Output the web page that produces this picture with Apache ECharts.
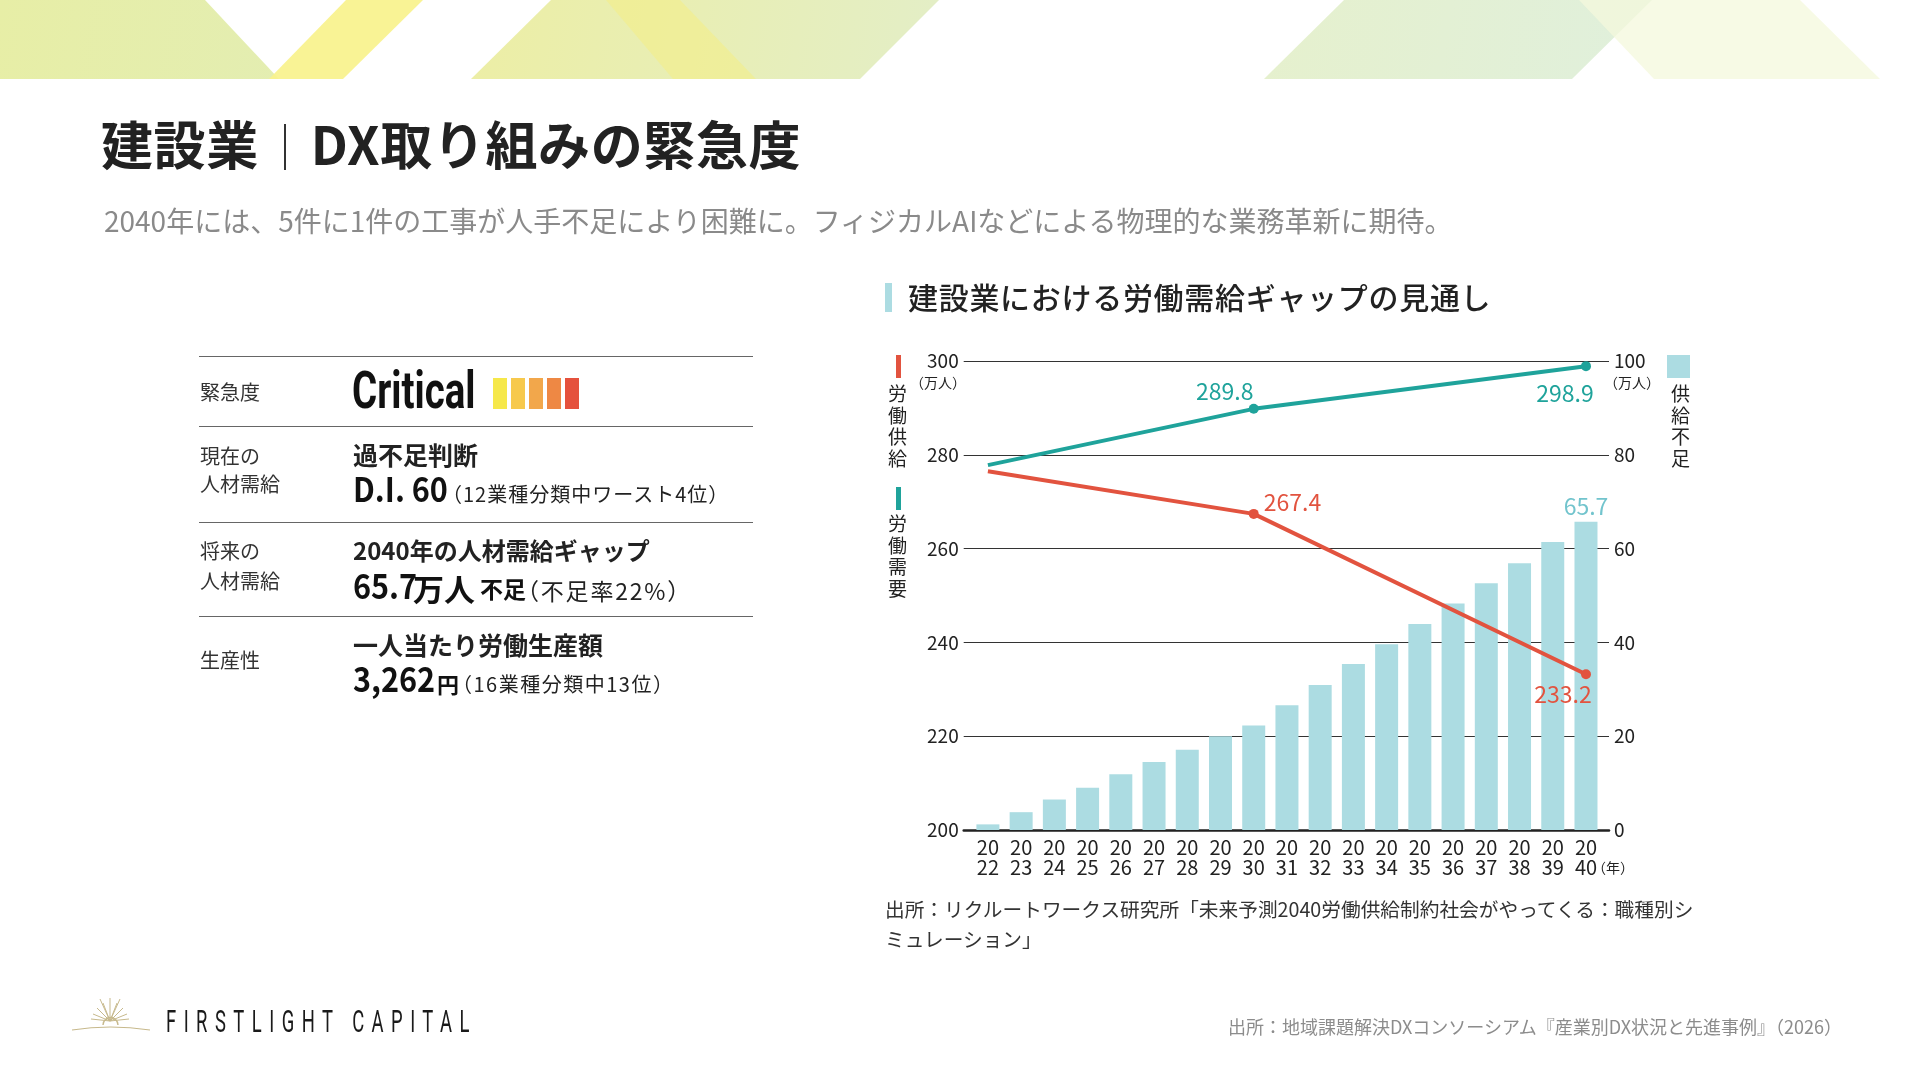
<!DOCTYPE html>
<html lang="ja">
<head>
<meta charset="utf-8">
<title>建設業｜DX取り組みの緊急度</title>
<script src="https://cdn.jsdelivr.net/npm/echarts@6/dist/echarts.min.js"></script>
<style>
  html, body { margin: 0; padding: 0; background: #fff; }
  body {
    width: 1920px; height: 1080px; position: relative; overflow: hidden;
    font-family: 'Noto Sans CJK JP', 'Noto Sans', sans-serif; color: #222;
  }
  .abs { position: absolute; line-height: 1; white-space: nowrap; }
  .deco { position: absolute; left: 0; top: 0; width: 1920px; height: 79px; }
  #chart { position: absolute; left: 0; top: 0; width: 1920px; height: 1080px; }
  .rule { position: absolute; left: 199px; width: 554px; height: 0; border-top: 1.5px solid #666; }
  .lbl { font-size: 20px; color: #333; }
  .head { font-size: 25px; font-weight: 700; color: #222; }
  .big { font-size: 34px; font-weight: 700; color: #111; transform: scaleX(.9); transform-origin: left; }
  .note { font-size: 20px; color: #222; }
  .vert { position: absolute; width: 19px; font-size: 19px; line-height: 21.7px; color: #222; text-align: center; }
  .lvl { position: absolute; top: 378px; width: 14px; height: 31px; }
</style>
</head>
<body>

<!-- header ribbons -->
<div class="deco" style="background: linear-gradient(100deg, #e7eea6 0%, #d3ebe5 85%); clip-path: polygon(0px 0px, 205px 0px, 279px 79px, 0px 79px);"></div>
<div class="deco" style="background: #f8f28c; opacity: .92; clip-path: polygon(346px 0px, 423px 0px, 343px 79px, 269px 79px);"></div>
<div class="deco" style="background: linear-gradient(100deg, #eeed8b 0%, #efee9c 18%, #dfeed5 60%, #d5ebe2 95%); clip-path: polygon(551px 0px, 939px 0px, 860px 79px, 471px 79px);"></div>
<div class="deco" style="background: rgba(243, 239, 136, .6); clip-path: polygon(606px 0px, 680px 0px, 756px 79px, 673px 79px);"></div>
<div class="deco" style="background: linear-gradient(100deg, #f3ef9a 0%, #eaf1c2 50%, #dcefe6 100%); clip-path: polygon(1344px 0px, 1652px 0px, 1572px 79px, 1264px 79px);"></div>
<div class="deco" style="background: rgba(244, 248, 220, .75); clip-path: polygon(1579px 0px, 1800px 0px, 1880px 79px, 1654px 79px);"></div>

<div id="chart"></div>

<!-- page title -->
<div class="abs" style="left:101px; top:117px; font-size:52px; font-weight:700; color:#222; letter-spacing:0.6px;">建設業<span style="display:inline-block; width:2px; height:46px; background:#333; margin:0 25px 0 25px; vertical-align:-5px;"></span>DX取り組みの緊急度</div>
<div class="abs" style="left:104px; top:206px; font-size:28px; color:#8a8a8a;">2040年には、5件に1件の工事が人手不足により困難に。フィジカルAIなどによる物理的な業務革新に期待。</div>

<!-- left summary table -->
<div class="rule" style="top:356px;"></div>
<div class="rule" style="top:426px;"></div>
<div class="rule" style="top:522px;"></div>
<div class="rule" style="top:616px;"></div>

<div class="abs lbl" style="left:200px; top:382px;">緊急度</div>
<div class="abs" style="left:352px; top:365px; font-family:Roboto,'Noto Sans',sans-serif; font-size:52px; font-weight:700; color:#111; transform:scaleX(.74); transform-origin:left;">Critical</div>
<div class="lvl" style="left:493px; background:#f6e84a;"></div>
<div class="lvl" style="left:511px; background:#f7c94d;"></div>
<div class="lvl" style="left:529px; background:#f2a74b;"></div>
<div class="lvl" style="left:547px; background:#ee8844;"></div>
<div class="lvl" style="left:565px; background:#e5513d;"></div>

<div class="abs lbl" style="left:200px; top:446px;">現在の</div>
<div class="abs lbl" style="left:200px; top:474px;">人材需給</div>
<div class="abs head" style="left:353px; top:442px;">過不足判断</div>
<div class="abs big" style="left:353px; top:471px;">D.I. 60</div>
<div class="abs note" style="left:442px; top:484px; letter-spacing:1px;">（12業種分類中ワースト4位）</div>

<div class="abs lbl" style="left:200px; top:541px;">将来の</div>
<div class="abs lbl" style="left:200px; top:571px;">人材需給</div>
<div class="abs" style="left:353px; top:538px; font-size:24px; font-weight:700; color:#222;">2040年の人材需給ギャップ</div>
<div class="abs big" style="left:353px; top:568px;">65.7</div>
<div class="abs" style="left:413px; top:572px; font-size:31px; font-weight:700; color:#111;">万人</div>
<div class="abs" style="left:480px; top:577px; font-size:23px; font-weight:700; color:#111;">不足</div>
<div class="abs" style="left:516px; top:579px; font-size:23px; color:#222; letter-spacing:1.8px;">（不足率22%）</div>

<div class="abs lbl" style="left:200px; top:650px;">生産性</div>
<div class="abs head" style="left:353px; top:632px;">一人当たり労働生産額</div>
<div class="abs big" style="left:353px; top:661px;">3,262</div>
<div class="abs" style="left:437px; top:672px; font-size:22px; font-weight:700; color:#111;">円</div>
<div class="abs note" style="left:452px; top:674px; letter-spacing:1.5px;">（16業種分類中13位）</div>

<!-- chart heading and axis titles -->
<div class="abs" style="left:885px; top:283px; width:7px; height:29px; background:#acdce2;"></div>
<div class="abs" style="left:908px; top:281px; font-size:30px; font-weight:500; letter-spacing:0.7px; color:#222;">建設業における労働需給ギャップの見通し</div>

<div class="abs" style="left:896px; top:355px; width:4.5px; height:23px; background:#e2533f;"></div>
<div class="vert" style="left:888px; top:382px;">労<br>働<br>供<br>給</div>
<div class="abs" style="left:896px; top:487px; width:4.5px; height:23px; background:#1fa39b;"></div>
<div class="vert" style="left:888px; top:512px;">労<br>働<br>需<br>要</div>

<div class="abs" style="left:1667px; top:355px; width:23px; height:23px; background:#acdce2;"></div>
<div class="vert" style="left:1671px; top:382px;">供<br>給<br>不<br>足</div>

<div class="abs" style="left:910px; top:375px; font-size:14px; color:#222;">（万人）</div>
<div class="abs" style="left:1604px; top:375px; font-size:14px; color:#222;">（万人）</div>
<div class="abs" style="left:1592px; top:860px; font-size:14px; color:#222;">（年）</div>

<div class="abs" style="left:885px; top:894px; font-size:19.7px; line-height:30px; color:#333;">出所：リクルートワークス研究所「未来予測2040労働供給制約社会がやってくる：職種別シ<br>ミュレーション」</div>

<!-- footer -->
<svg class="abs" style="left:60px; top:990px;" width="110" height="50" viewBox="0 0 110 50">
  <g stroke="#c7b98c" stroke-width="1" fill="none">
    <line x1="50" y1="31" x2="50" y2="8"/>
    <line x1="50" y1="31" x2="43" y2="13"/>
    <line x1="50" y1="31" x2="57" y2="13"/>
    <line x1="50" y1="31" x2="37" y2="18"/>
    <line x1="50" y1="31" x2="63" y2="18"/>
    <line x1="50" y1="31" x2="33" y2="24"/>
    <line x1="50" y1="31" x2="67" y2="24"/>
    <line x1="50" y1="31" x2="40" y2="9"/>
    <line x1="50" y1="31" x2="60" y2="9"/>
    <line x1="50" y1="31" x2="31" y2="29"/>
    <line x1="50" y1="31" x2="69" y2="29"/>
    <path d="M43,35 A7.5,7.5 0 0 1 58,35" stroke-width="1.4"/>
    <path d="M12,40 Q50,34 90,40" stroke-width="1.2"/>
  </g>
</svg>
<div class="abs" style="left:166px; top:1005px; font-family:Roboto,sans-serif; font-weight:400; font-size:32px; letter-spacing:13px; color:#1a1a1a; transform:scaleX(.575); transform-origin:left;">FIRSTLIGHT CAPITAL</div>
<div class="abs" style="right:78px; top:1017px; font-size:18px; color:#8c8c8c;">出所：地域課題解決DXコンソーシアム『産業別DX状況と先進事例』（2026）</div>

<script>
// 年次
const years = ['2022', '2023', '2024', '2025', '2026', '2027', '2028', '2029', '2030', '2031',
  '2032', '2033', '2034', '2035', '2036', '2037', '2038', '2039', '2040']
// 供給不足（万人）
const shortage = [1.2, 3.8, 6.5, 9.0, 11.9, 14.5, 17.1, 20.0, 22.3, 26.6,
  30.9, 35.4, 39.6, 43.9, 48.3, 52.6, 56.9, 61.4, 65.7]
// 労働需要・労働供給（万人）
const keyYears = ['2022', '2030', '2040']
const demand = [277.8, 289.8, 298.9]
const supply = [276.5, 267.4, 233.2]
// 軸の目盛り
const leftAxis = { min: 200, max: 300, interval: 20 }
const rightAxis = { min: 0, max: 100, interval: 20 }

const FONT = "'Noto Sans CJK JP', 'Noto Sans', sans-serif"
const TEAL = '#1fa39b'
const RED = '#e2533f'
const BAR = '#acdce2'

const demandLabels = [
  { show: false },
  { show: true, position: 'top', offset: [-29, 4] },
  { show: true, position: 'bottom', offset: [-21, 6] },
]
const supplyLabels = [
  { show: false },
  { show: true, position: 'right', offset: [0, -12] },
  { show: true, position: 'bottom', offset: [-23, -2] },
]

function pointData(values, labels) {
  return keyYears.map((y, i) => ({
    value: [y, values[i]],
    symbolSize: i === 0 ? 0 : 10,
    label: labels[i],
  }))
}

const chart = echarts.init(document.getElementById('chart'), null, { renderer: 'canvas' })

const option = {
  animation: false,
  textStyle: { fontFamily: FONT },
  grid: [
    { left: 963.7, width: 645.3, top: 361, height: 469 },
    { left: 971.3, width: 631.3, top: 361, height: 469 },
  ],
  xAxis: [
    {
      gridIndex: 0, type: 'value', min: 0, max: 1,
      axisLabel: { show: false }, axisTick: { show: false }, splitLine: { show: false },
      axisLine: { show: true, lineStyle: { color: '#222', width: 2.5 } },
    },
    {
      gridIndex: 1, type: 'category', data: years, boundaryGap: true,
      axisLine: { show: false }, axisTick: { show: false },
      axisLabel: {
        interval: 0, margin: 7, fontSize: 20, lineHeight: 20, color: '#222',
        formatter: v => v.slice(0, 2) + '\n' + v.slice(2),
      },
    },
  ],
  yAxis: [
    {
      gridIndex: 0, type: 'value', position: 'left',
      min: leftAxis.min, max: leftAxis.max, interval: leftAxis.interval,
      axisLine: { show: false }, axisTick: { show: false },
      axisLabel: { margin: 5, fontSize: 19, color: '#222' },
      splitLine: { show: true, lineStyle: { color: '#333', width: 1.2 } },
    },
    {
      gridIndex: 0, type: 'value', position: 'right',
      min: rightAxis.min, max: rightAxis.max, interval: rightAxis.interval,
      axisLine: { show: false }, axisTick: { show: false },
      axisLabel: { margin: 5, fontSize: 19, color: '#222' },
      splitLine: { show: false },
    },
    { gridIndex: 1, type: 'value', show: false, min: leftAxis.min, max: leftAxis.max },
    { gridIndex: 1, type: 'value', show: false, min: rightAxis.min, max: rightAxis.max },
  ],
  series: [
    {
      name: '供給不足',
      type: 'bar',
      xAxisIndex: 1,
      yAxisIndex: 3,
      barWidth: 23,
      itemStyle: { color: BAR },
      data: shortage.map((v, i) => ({
        value: v,
        label: i === shortage.length - 1
          ? { show: true, position: 'top', distance: 4, color: '#72c4cd', fontSize: 23, formatter: p => p.value.toFixed(1) }
          : { show: false },
      })),
    },
    {
      name: '労働需要',
      type: 'line',
      xAxisIndex: 1,
      yAxisIndex: 2,
      symbol: 'circle',
      lineStyle: { color: TEAL, width: 4 },
      itemStyle: { color: TEAL },
      label: { color: TEAL, fontSize: 23, formatter: p => p.value[1].toFixed(1) },
      data: pointData(demand, demandLabels),
    },
    {
      name: '労働供給',
      type: 'line',
      xAxisIndex: 1,
      yAxisIndex: 2,
      symbol: 'circle',
      lineStyle: { color: RED, width: 4 },
      itemStyle: { color: RED },
      label: { color: RED, fontSize: 23, formatter: p => p.value[1].toFixed(1) },
      data: pointData(supply, supplyLabels),
    },
  ],
}

chart.setOption(option)
window.addEventListener('resize', function () {
  chart.resize()
})
</script>
</body>
</html>
